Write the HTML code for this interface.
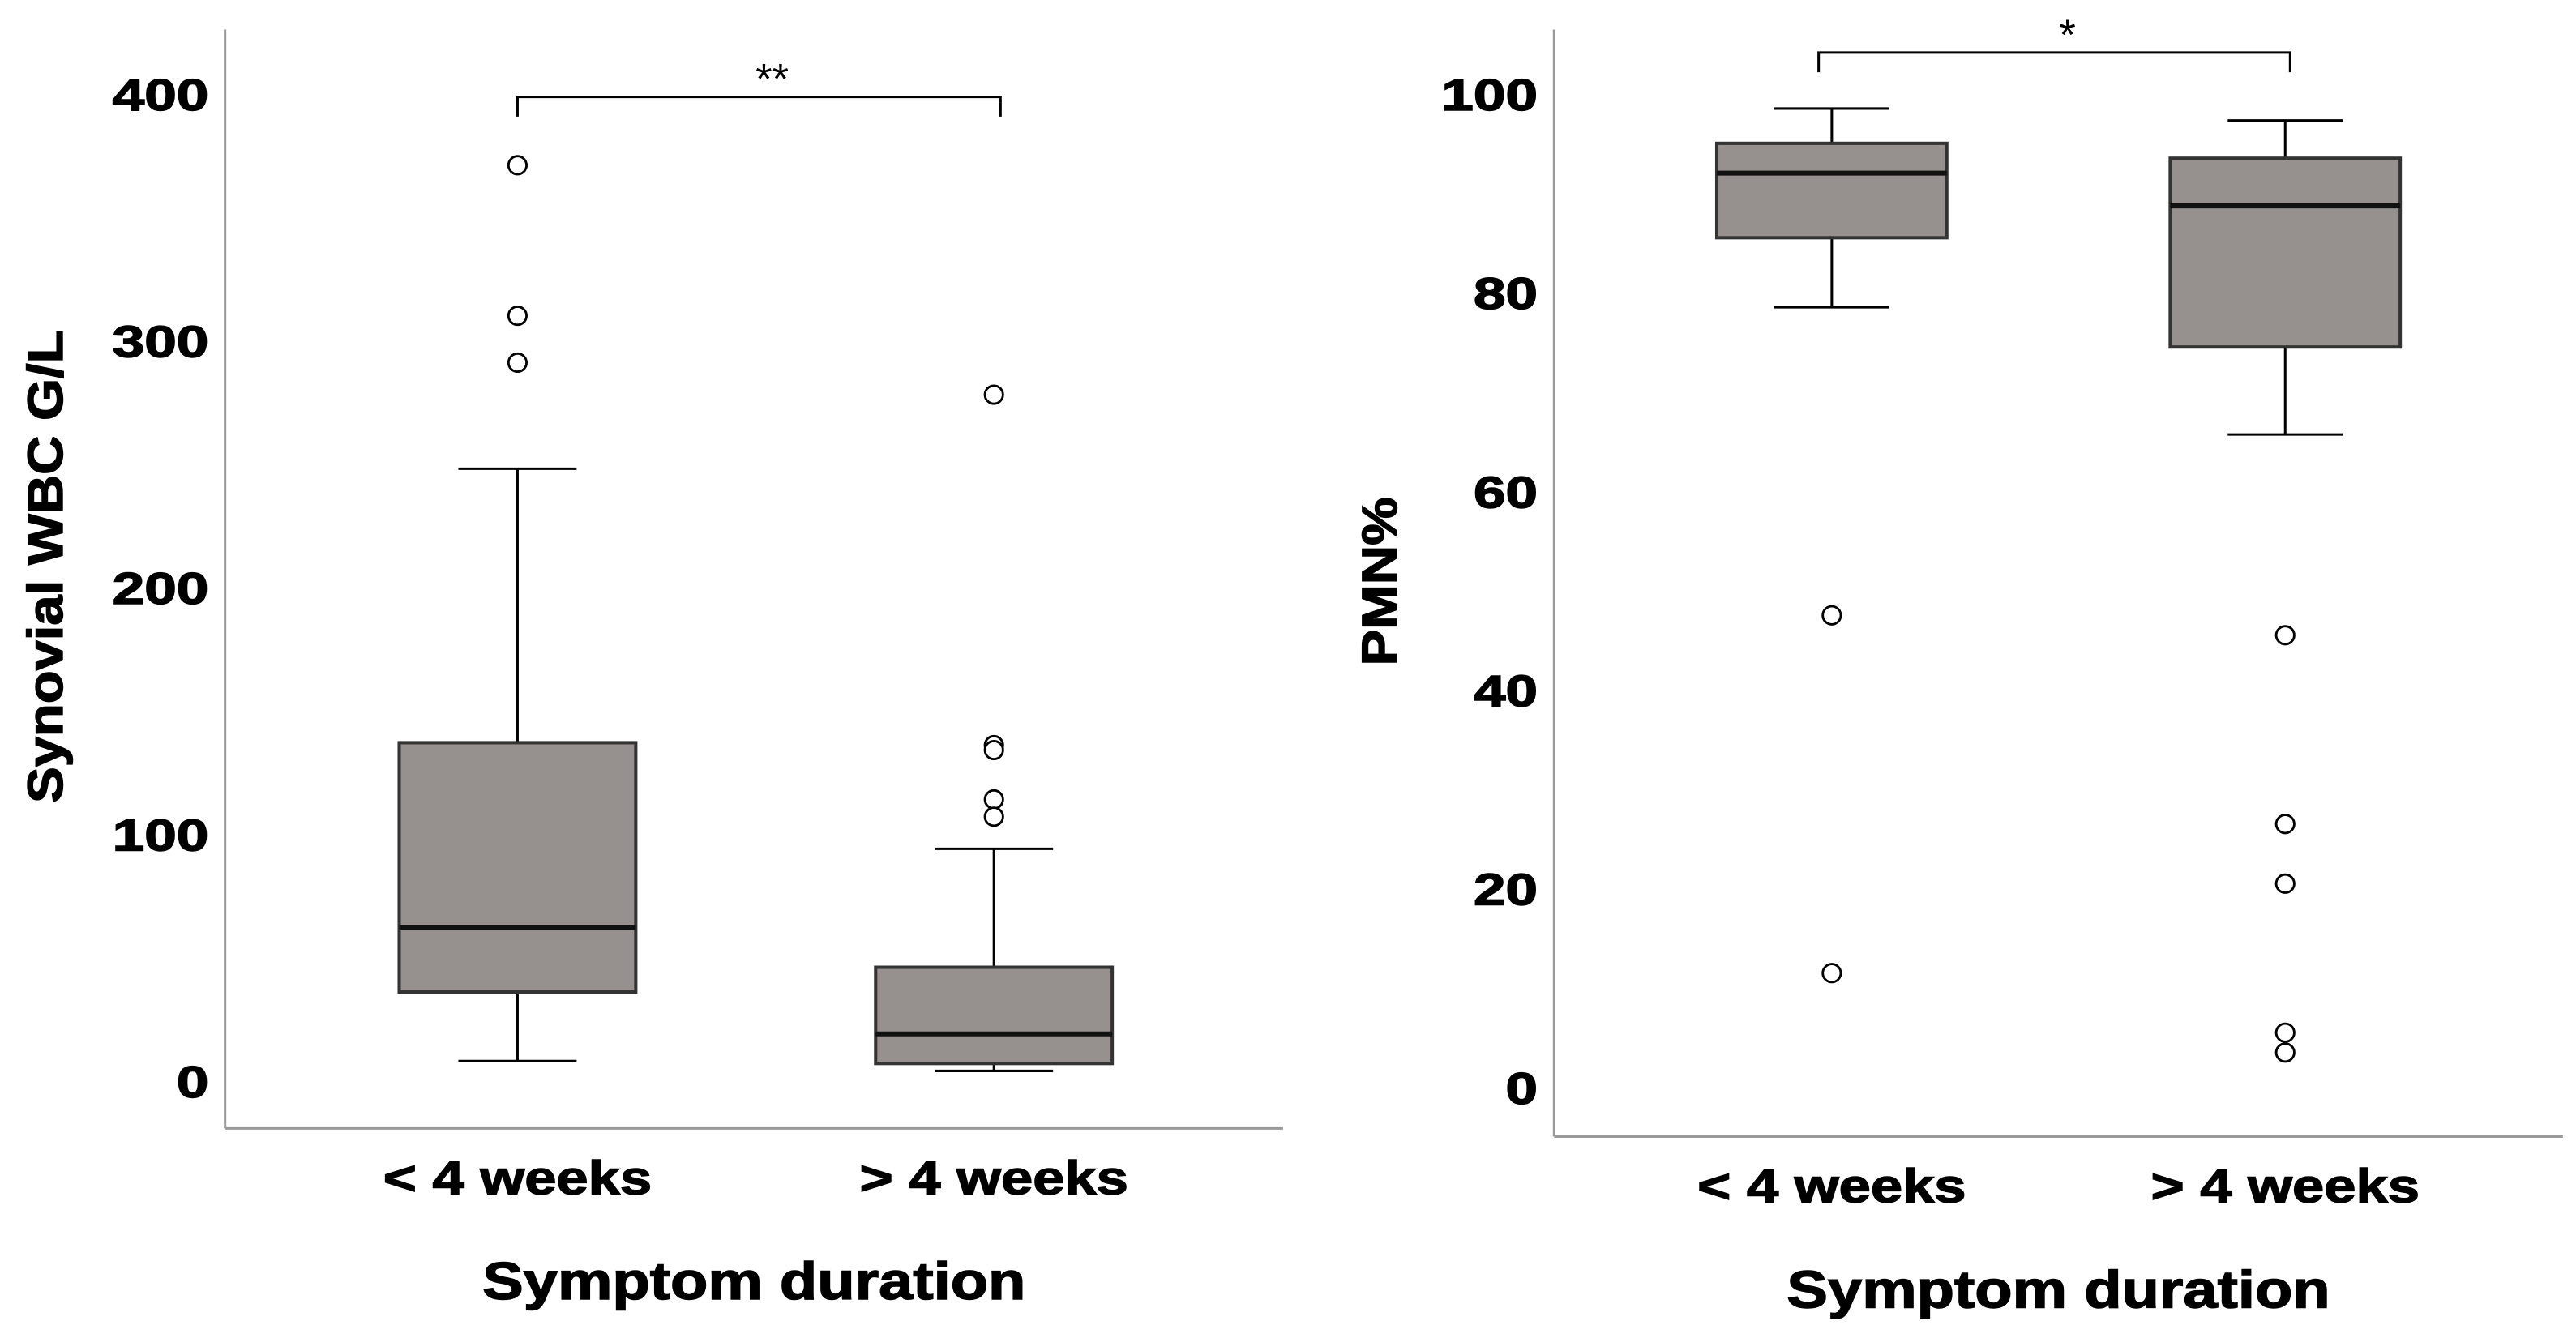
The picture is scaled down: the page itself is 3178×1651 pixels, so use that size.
<!DOCTYPE html>
<html><head><meta charset="utf-8">
<style>
html,body{margin:0;padding:0;background:#fff;}
svg{display:block;}
text{font-family:"Liberation Sans",Arial,sans-serif;font-weight:bold;fill:#000;}
.heavy{stroke:#000;stroke-width:0.7;}
</style></head>
<body>
<svg id="chart" width="3178" height="1651" viewBox="0 0 1568 814.6" preserveAspectRatio="none" xmlns="http://www.w3.org/2000/svg"></svg>
<script>
// Left panel data: Synovial WBC G/L
const categories = ["< 4 weeks", "> 4 weeks"];
const wbcTicks = [0, 100, 200, 300, 400];
const wbcQ1 = [36, 7];
const wbcMedian = [62, 19];
const wbcQ3 = [137, 46];
const wbcLow = [8, 4];
const wbcHigh = [248, 94];
const wbcOutliers = [[371, 310, 291], [278, 136, 134, 114, 107]];
// Right panel data: PMN%
const pmnTicks = [0, 20, 40, 60, 80, 100];
const pmnQ1 = [85.5, 74.5];
const pmnMedian = [92, 88.7];
const pmnQ3 = [95, 93.5];
const pmnLow = [78.5, 65.7];
const pmnHigh = [98.5, 97.3];
const pmnOutliers = [[47.5, 11.5], [45.5, 26.5, 20.5, 5.5, 3.5]];

const NS = "http://www.w3.org/2000/svg";
const svg = document.getElementById('chart');
function mk(tag, attrs, parent) {
  const e = document.createElementNS(NS, tag);
  for (const k in attrs) e.setAttribute(k, attrs[k]);
  (parent || svg).appendChild(e);
  return e;
}
function widen(t, f) {
  const w = t.getComputedTextLength();
  t.setAttribute('textLength', (w * f).toFixed(1));
  t.setAttribute('lengthAdjust', 'spacingAndGlyphs');
}

function panel(cfg) {
  const g = mk('g', {});
  
  
  const y = v => cfg.y0 + (v - cfg.vmin) * (cfg.y1 - cfg.y0) / (cfg.vmax - cfg.vmin);
  const x = i => cfg.centers[i];
  const ya = mk('line', {x1: cfg.ax, y1: cfg.top, x2: cfg.ax, y2: cfg.bottom, stroke: '#9a9a9a', 'stroke-width': 1.5}, g);
  
  
  const xa = mk('line', {x1: cfg.ax, y1: cfg.bottom, x2: cfg.right, y2: cfg.bottom, stroke: '#9a9a9a', 'stroke-width': 1.5}, g);
  
  
  cfg.ticks.forEach(t => {
    const tx = mk('text', {x: cfg.ax - 10, y: y(t) + 10, 'text-anchor': 'end', 'font-size': 27, class: 'heavy'}, g);
    tx.textContent = t;
    
    
    widen(tx, 1.3);
  });
  const yt = mk('text', {x: 0, y: 0, 'text-anchor': 'middle', 'font-size': 30, class: 'heavy', transform: `translate(${cfg.ytx},${cfg.yty}) rotate(-90)`}, g);
  yt.textContent = cfg.ytitle;
  
  
  widen(yt, cfg.ytf);
  categories.forEach((c, i) => {
    const t = mk('text', {x: x(i), y: cfg.bottom + 40, 'text-anchor': 'middle', 'font-size': 29, class: 'heavy'}, g);
    t.textContent = c;
    
    
    widen(t, 1.2);
  });
  const xt = mk('text', {x: cfg.xtx, y: cfg.bottom + 104, 'text-anchor': 'middle', 'font-size': 32, class: 'heavy'}, g);
  xt.textContent = 'Symptom duration';
  
  
  widen(xt, 1.17);
  categories.forEach((c, i) => {
    const cx = x(i), hw = cfg.bw / 2, cap = cfg.bw / 4;
    const bg = mk('g', {}, g);
    
    
    mk('line', {x1: cx, y1: y(cfg.high[i]), x2: cx, y2: y(cfg.q3[i]), stroke: '#000', 'stroke-width': 1.5}, bg);
    mk('line', {x1: cx, y1: y(cfg.low[i]), x2: cx, y2: y(cfg.q1[i]), stroke: '#000', 'stroke-width': 1.5}, bg);
    mk('line', {x1: cx - cap, y1: y(cfg.high[i]), x2: cx + cap, y2: y(cfg.high[i]), stroke: '#000', 'stroke-width': 1.5}, bg);
    mk('line', {x1: cx - cap, y1: y(cfg.low[i]), x2: cx + cap, y2: y(cfg.low[i]), stroke: '#000', 'stroke-width': 1.5}, bg);
    mk('rect', {x: cx - hw, y: y(cfg.q3[i]), width: cfg.bw, height: y(cfg.q1[i]) - y(cfg.q3[i]), fill: '#96918f', stroke: '#333', 'stroke-width': 2}, bg);
    mk('line', {x1: cx - hw, y1: y(cfg.med[i]), x2: cx + hw, y2: y(cfg.med[i]), stroke: '#111', 'stroke-width': 3}, bg);
    cfg.out[i].forEach(v => {
      const o = mk('circle', {cx: cx, cy: y(v), r: 5.5, fill: '#fff', stroke: '#000', 'stroke-width': 1.4}, bg);
      
      
    });
  });
  const b = cfg.br;
  const br = mk('path', {d: `M${b.x1},${b.y + 12} V${b.y} H${b.x2} V${b.y + 12}`, fill: 'none', stroke: '#000', 'stroke-width': 1.5}, g);
  
  
  const st = mk('text', {x: (b.x1 + b.x2) / 2 + 8, y: b.y - 2, 'text-anchor': 'middle', 'font-size': 26, style: 'font-weight:normal'}, g);
  st.textContent = b.label;
  
  
}

panel({name: 'wbc-panel', ax: 137, top: 18, bottom: 687, right: 781,
  y0: 658, y1: 57, vmin: 0, vmax: 400, ticks: wbcTicks, centers: [315, 605], bw: 144,
  q1: wbcQ1, med: wbcMedian, q3: wbcQ3, low: wbcLow, high: wbcHigh, out: wbcOutliers,
  ytitle: 'Synovial WBC G/L', ytx: 38, yty: 345, ytf: 1.1, xtx: 459,
  br: {x1: 315, x2: 609, y: 59, label: '**'}});
panel({name: 'pmn-panel', ax: 946, top: 18, bottom: 692, right: 1560,
  y0: 662, y1: 57, vmin: 0, vmax: 100, ticks: pmnTicks, centers: [1115, 1391], bw: 140,
  q1: pmnQ1, med: pmnMedian, q3: pmnQ3, low: pmnLow, high: pmnHigh, out: pmnOutliers,
  ytitle: 'PMN%', ytx: 850, yty: 354, ytf: 1.1, xtx: 1253,
  br: {x1: 1107, x2: 1394, y: 32, label: '*'}});
</script>
</body></html>
